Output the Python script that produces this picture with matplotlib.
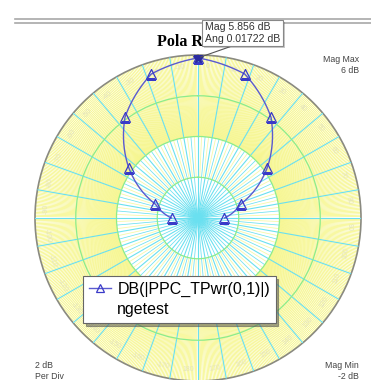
import numpy as np
import matplotlib
matplotlib.use("Agg")
import matplotlib.pyplot as plt
from matplotlib.lines import Line2D
import matplotlib.patheffects as pe

plt.rcParams['font.family'] = ['Liberation Sans', 'DejaVu Sans']

# data (angle from north, degrees / magnitude in dB)
ang_deg = [-90, -72, -54, -36, -18, 0, 18, 36, 54, 72, 90]
mag_db = [-0.7, 0.2, 2.2, 4.1, 5.43, 5.856, 5.43, 4.1, 2.2, 0.2, -0.7]
mag_min, mag_max, per_div = -2, 6, 2
ring_ticks = [0, 2, 4]
series_name = "DB(|PPC_TPwr(0,1)|)"
source_name = "ngetest"
title = "Pola Radiasi"

W, H = 371, 380
fig = plt.figure(figsize=(W / 100, H / 100), dpi=100)

cx, cy, R = 198, 218, 163
ax = fig.add_axes([(cx - R) / W, (H - cy - R) / H, 2 * R / W, 2 * R / H],
                  projection='polar')
ax.set_theta_zero_location('N')
ax.set_theta_direction(-1)
ax.set_rlim(mag_min, mag_max)
ax.set_facecolor('white')

# fine spokes
yel = '#f4f46c'
cyan = '#6ae0f0'
fine = np.deg2rad(np.arange(0, 360, 0.5))
ax.vlines(fine, 2, mag_max, colors=yel, lw=0.45, zorder=1)
mid = np.deg2rad(np.arange(2.5, 360, 5))
ax.vlines(mid, 0, 2, colors='#f8f8a8', lw=0.6, zorder=1)
inner = np.deg2rad(np.arange(5, 360, 10))
ax.vlines(inner, mag_min, 2, colors=cyan, lw=0.55, zorder=2)

# main grid
ax.set_xticks(np.deg2rad(np.arange(0, 360, 10)))
ax.set_yticks(ring_ticks)
ax.set_xticklabels([])
ax.set_yticklabels([])
ax.xaxis.grid(True, color=cyan, lw=0.8, zorder=2)
ax.yaxis.grid(True, color='#8cec8c', lw=0.9, zorder=2)
ax.set_axisbelow(False)
ax.spines['polar'].set_color('#8a8a80')
ax.spines['polar'].set_linewidth(1.2)

# faint angle labels
for a in range(-170, 190, 10):
    th = np.deg2rad(a + 3.5)
    rot = -a if abs(a) <= 90 else 180 - a
    ax.text(th, 5.45, str(a), fontsize=5, color='#e4e4bc', rotation=rot,
            ha='center', va='center', zorder=3)

# the curve (drawn as a smooth polar path between the points)
curve, = ax.plot(np.deg2rad(ang_deg), mag_db, color='#5a5ad0', lw=1.0, zorder=5)
curve.get_path()._interpolation_steps = 40
line, = ax.plot(np.deg2rad(ang_deg), mag_db, color='#5a5ad0', lw=1.0, ls='none',
                marker='^', ms=6.5, mfc='none', mec='#3a3ac8', mew=0.9, zorder=6)
ax.plot(np.deg2rad(ang_deg[5]), mag_db[5], marker='*', ms=7, color='#2a2aa0',
        zorder=7)

# marker readout
ann = ax.annotate(f"Mag {mag_db[5]} dB\nAng 0.01722 dB",
                  xy=(np.deg2rad(ang_deg[5]), mag_db[5]),
                  xytext=(205 / W, 1 - 33 / H), textcoords='figure fraction',
                  fontsize=7.6, color='#333333', ha='left', va='center',
                  linespacing=1.15,
                  bbox=dict(boxstyle='square,pad=0.25', fc='white', ec='#888888', lw=0.8),
                  arrowprops=dict(arrowstyle='-', color='#555555', lw=0.8,
                                  relpos=(0.45, 0.0), shrinkA=0, shrinkB=2),
                  zorder=10)
ann.get_bbox_patch().set_path_effects([pe.SimplePatchShadow(offset=(1.5, -1.5)), pe.Normal()])

# title (behind the axes so the readout box covers it)
fig.text(157 / W, 1 - 42 / H, title, fontsize=11.5, fontweight='bold',
         family='Liberation Serif', ha='left', va='center', zorder=-1)

# frame top double line
for yy in (19, 23):
    fig.add_artist(Line2D([15 / W, 1], [1 - yy / H] * 2, color='#a8a8a8', lw=1.2,
                          zorder=-1))

# corner labels
fig.text(359 / W, 1 - 65 / H, f"Mag Max\n{mag_max} dB", fontsize=6.3,
         ha='right', va='center', color='#444444', linespacing=1.3)
fig.text(35 / W, 1 - 371 / H, f"{per_div} dB\nPer Div", fontsize=6.3,
         ha='left', va='center', color='#444444', linespacing=1.3)
fig.text(359 / W, 1 - 371 / H, f"Mag Min\n{mag_min} dB", fontsize=6.3,
         ha='right', va='center', color='#444444', linespacing=1.3)

# legend
blank = Line2D([], [], color='none')
leg = ax.legend([line, blank], [series_name, source_name],
                loc='upper left', bbox_to_anchor=(83 / W, 1 - 276 / H),
                bbox_transform=fig.transFigure, fontsize=11.5, frameon=True,
                fancybox=False, shadow=True, edgecolor='#666666',
                handlelength=1.4, handletextpad=0.4, borderpad=0.35,
                labelspacing=0.35, markerscale=0.8, borderaxespad=0)
leg.get_frame().set_linewidth(0.8)
leg.legend_handles[0].set_linestyle('-')
leg.set_zorder(20)

fig.savefig('out.png', dpi=100, facecolor='white')
